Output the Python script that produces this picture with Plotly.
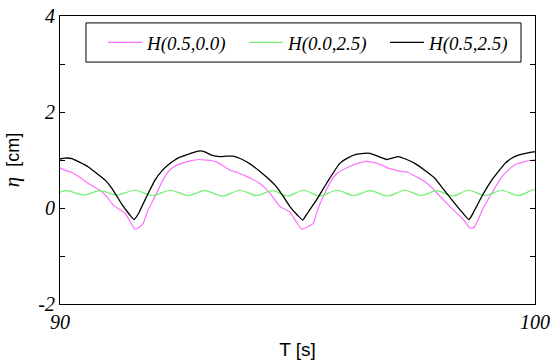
import plotly.graph_objects as go

# --- data ---
t_black = [90.00, 90.10, 90.25, 90.40, 90.59, 90.80, 90.95, 91.10, 91.30, 91.45, 91.56, 91.65, 91.79,
           92.00, 92.15, 92.28, 92.50, 92.70, 92.85, 92.95, 93.05, 93.19, 93.37, 93.50, 93.64, 93.86,
           94.00, 94.21, 94.40, 94.56, 94.70, 94.84, 95.00, 95.11, 95.20, 95.40, 95.61, 95.89, 96.05,
           96.25, 96.40, 96.53, 96.63, 96.74, 96.88, 97.00, 97.12, 97.30, 97.47, 97.70, 97.89, 98.05,
           98.25, 98.45, 98.61, 98.70, 98.88, 99.09, 99.37, 99.50, 99.65, 99.80, 99.96, 100.00]
v_black = [1.02, 1.04, 1.03, 0.96, 0.86, 0.70, 0.58, 0.40, 0.08, -0.12, -0.24, -0.12, 0.17,
           0.58, 0.78, 0.90, 1.05, 1.12, 1.17, 1.19, 1.17, 1.10, 1.07, 1.08, 1.08, 1.00,
           0.92, 0.76, 0.60, 0.44, 0.24, 0.03, -0.15, -0.25, -0.12, 0.17, 0.51, 0.93, 1.04,
           1.12, 1.14, 1.14, 1.10, 1.06, 1.01, 1.04, 1.07, 1.01, 0.93, 0.77, 0.62, 0.42,
           0.17, -0.07, -0.24, -0.10, 0.24, 0.58, 0.93, 1.03, 1.10, 1.14, 1.17, 1.17]

t_mag = [90.00, 90.10, 90.25, 90.40, 90.60, 90.75, 90.88, 91.00, 91.12, 91.25, 91.37, 91.50, 91.58,
         91.67, 91.75, 91.85, 92.00, 92.15, 92.28, 92.40, 92.56, 92.75, 92.91, 93.05, 93.19, 93.35,
         93.58, 93.86, 94.05, 94.21, 94.42, 94.63, 94.84, 94.98, 95.09, 95.20, 95.33, 95.42, 95.54,
         95.70, 95.83, 96.11, 96.30, 96.46, 96.60, 96.74, 96.91, 97.10, 97.33, 97.50, 97.68, 97.85,
         98.04, 98.28, 98.50, 98.63, 98.72, 98.80, 98.90, 99.05, 99.30, 99.45, 99.58, 99.80, 99.96, 100.00]
v_mag = [0.83, 0.79, 0.74, 0.65, 0.51, 0.42, 0.34, 0.22, 0.06, -0.03, -0.11, -0.32, -0.44,
         -0.40, -0.32, -0.05, 0.24, 0.55, 0.76, 0.86, 0.93, 0.98, 1.01, 1.00, 0.99, 0.93,
         0.79, 0.69, 0.60, 0.51, 0.31, 0.03, -0.08, -0.30, -0.44, -0.40, -0.32, -0.05, 0.24,
         0.55, 0.72, 0.87, 0.94, 0.97, 0.95, 0.91, 0.83, 0.78, 0.74, 0.65, 0.55, 0.40,
         0.20, -0.04, -0.25, -0.42, -0.40, -0.25, -0.02, 0.24, 0.65, 0.80, 0.90, 0.97, 1.00, 1.00]

t_green = [90.00, 90.14, 90.50, 90.84, 91.20, 91.58, 91.95, 92.32, 92.70, 93.05, 93.42, 93.79,
           94.13, 94.48, 94.80, 95.12, 95.47, 95.83, 96.18, 96.53, 96.90, 97.26, 97.60, 97.93,
           98.27, 98.60, 98.95, 99.30, 99.65, 99.96, 100.00]
v_green = [0.33, 0.36, 0.27, 0.36, 0.27, 0.37, 0.26, 0.37, 0.26, 0.36, 0.25, 0.37,
           0.26, 0.36, 0.25, 0.37, 0.25, 0.37, 0.26, 0.36, 0.25, 0.37, 0.26, 0.36,
           0.25, 0.37, 0.26, 0.37, 0.26, 0.38, 0.38]

names = ["H(0.5,0.0)", "H(0.0,2.5)", "H(0.5,2.5)"]
x_ticks = [90, 100]
y_ticks = [-2, 0, 2, 4]

serif = "Times New Roman"
sans = "Arial"


def serif_italic(s):
    return "<span style='font-family:Times New Roman;font-style:italic'>%s</span>" % s


fig = go.Figure()
fig.add_trace(go.Scatter(x=t_mag, y=v_mag, name=names[0], mode="lines",
                         line=dict(color="#ff70ff", width=1.2, shape="spline", smoothing=0.5)))
fig.add_trace(go.Scatter(x=t_green, y=v_green, name=names[1], mode="lines",
                         line=dict(color="#70f070", width=1.2, shape="spline", smoothing=0.8)))
fig.add_trace(go.Scatter(x=t_black, y=v_black, name=names[2], mode="lines",
                         line=dict(color="black", width=1.3, shape="spline", smoothing=0.5)))

# legend frame
fig.add_shape(type="rect", xref="paper", yref="paper", x0=0.0547, x1=0.9705, y0=0.840, y1=0.976,
              line=dict(color="black", width=1), fillcolor="white", layer="below")

fig.update_layout(
    width=555, height=361,
    margin=dict(l=60, r=20, t=16, b=57, autoexpand=False),
    paper_bgcolor="white", plot_bgcolor="white",
    font=dict(family=serif),
    showlegend=True,
    legend=dict(orientation="h", x=0.0905, xanchor="left", y=0.908, yanchor="middle",
                borderwidth=0, bgcolor="rgba(0,0,0,0)",
                font=dict(family=serif, size=19, color="black", style="italic"),
                itemwidth=34, entrywidth=92, entrywidthmode="pixels"),
    xaxis=dict(range=[90, 100], tickvals=x_ticks, ticktext=[serif_italic(v) for v in x_ticks],
               ticks="", showline=True, linecolor="black", linewidth=1, mirror=True,
               showgrid=False, zeroline=False, automargin=False,
               tickfont=dict(family=serif, size=20, color="black", style="italic"),
               title=dict(text="T [s]", font=dict(family=sans, size=19, color="black"), standoff=10)),
    yaxis=dict(range=[-2, 4], tickvals=y_ticks, ticktext=[serif_italic(v) for v in y_ticks],
               ticks="inside", ticklen=5, tickcolor="black", showline=True, linecolor="black",
               linewidth=1, mirror="ticks", showgrid=False, zeroline=False, automargin=False,
               minor=dict(tickvals=[-1, 1, 3], ticks="inside", ticklen=5, tickcolor="black", showgrid=False),
               tickfont=dict(family=serif, size=20, color="black", style="italic"),
               title=dict(text="<span style='font-family:Times New Roman;font-style:italic;font-size:21px'>η</span>  [cm]",
                          font=dict(family=sans, size=18, color="black"), standoff=16)),
)

fig.write_html("out.html")
